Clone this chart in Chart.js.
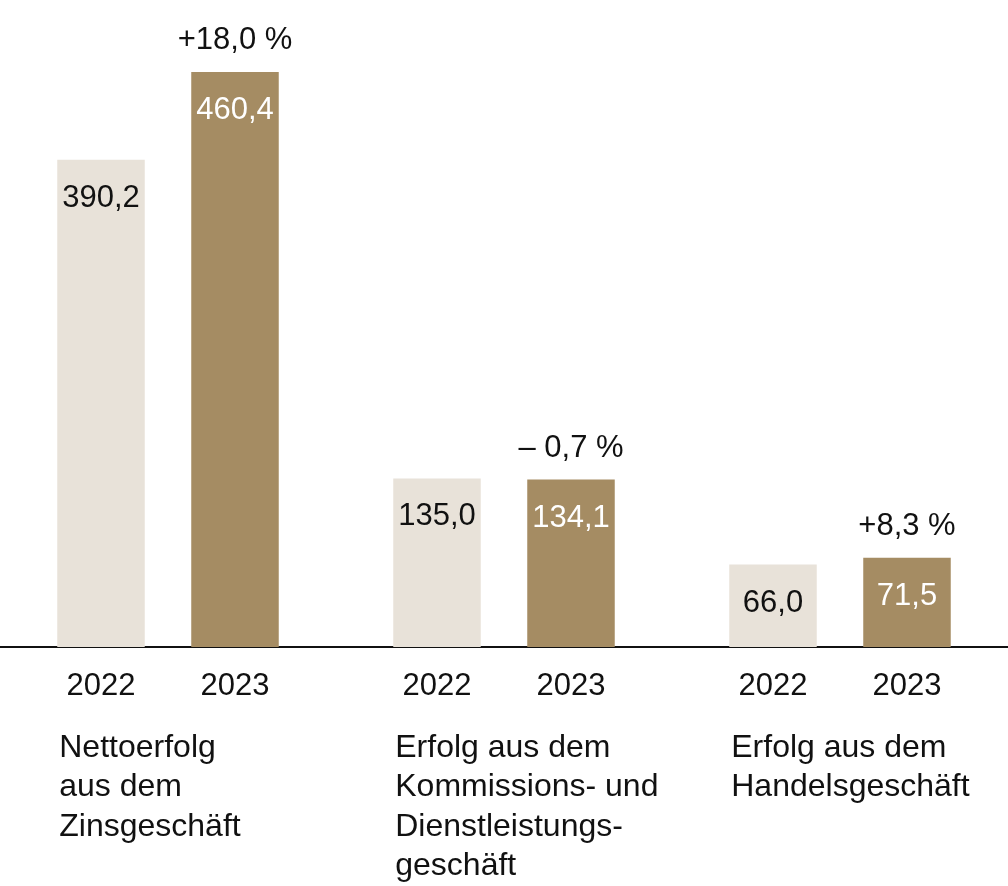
<!DOCTYPE html>
<html>
<head>
<meta charset="utf-8">
<script src="https://cdn.jsdelivr.net/npm/chart.js@4"></script>
<style>
  html, body { margin: 0; padding: 0; background: #fff; }
  #wrap { width: 1008px; height: 886px; }
</style>
</head>
<body>
<div id="wrap"><canvas id="myChart" width="1008" height="886"></canvas></div>
<script>
Chart.defaults.font.family = '"Liberation Sans", Arial, sans-serif';

const categories = [
  ['Nettoerfolg', 'aus dem', 'Zinsgeschäft'],
  ['Erfolg aus dem', 'Kommissions- und', 'Dienstleistungs-', 'geschäft'],
  ['Erfolg aus dem', 'Handelsgeschäft']
];
const years = ['2022', '2023'];
const values2022 = [390.2, 135.0, 66.0];
const values2023 = [460.4, 134.1, 71.5];
const changes = ['+18,0 %', '– 0,7 %', '+8,3 %'];

const lightColor = 'rgb(232,226,217)';
const darkColor = 'rgb(165,140,99)';
const textColor = '#111';

function fmt(v) {
  return v.toFixed(1).replace('.', ',');
}

// labels in/over the bars, years and group names under the axis
const labelPlugin = {
  id: 'labels',
  afterDraw(chart) {
    const ctx = chart.ctx;
    ctx.save();
    ctx.textBaseline = 'alphabetic';

    chart.data.datasets.forEach((ds, di) => {
      const meta = chart.getDatasetMeta(di);
      meta.data.forEach((bar, i) => {
        // value inside the bar
        ctx.font = '31px "Liberation Sans", Arial, sans-serif';
        ctx.textAlign = 'center';
        ctx.fillStyle = di === 1 ? '#fff' : textColor;
        ctx.fillText(fmt(ds.data[i]), bar.x, bar.y + 47);

        // change above the 2023 bar
        if (di === 1) {
          ctx.fillStyle = textColor;
          ctx.fillText(changes[i], bar.x, bar.y - 23);
        }

        // year below the axis
        ctx.fillStyle = textColor;
        ctx.fillText(years[di], bar.x, 695);

        // group name, left aligned at the 2022 bar
        if (di === 0) {
          ctx.font = '32px "Liberation Sans", Arial, sans-serif';
          ctx.textAlign = 'left';
          const left = bar.x - bar.width / 2 + 2;
          categories[i].forEach((line, li) => {
            ctx.fillText(line, left, 757 + li * 39.3);
          });
        }
      });
    });
    ctx.restore();
  }
};

const data = {
  labels: categories.map(c => c.join(' ')),
  datasets: [{
    label: years[0],
    data: values2022,
    backgroundColor: lightColor,
    borderWidth: 0
  }, {
    label: years[1],
    data: values2023,
    backgroundColor: darkColor,
    borderWidth: 0
  }]
};

const config = {
  type: 'bar',
  data: data,
  plugins: [labelPlugin],
  options: {
    responsive: false,
    animation: false,
    maintainAspectRatio: false,
    categoryPercentage: 0.7976,
    barPercentage: 0.653,
    layout: {
      padding: 0
    },
    plugins: {
      legend: { display: false },
      tooltip: { enabled: false }
    },
    scales: {
      x: {
        z: 1,
        grid: { display: false },
        border: { display: true, color: '#111', width: 2 },
        ticks: { display: false },
        afterFit(scale) { scale.height = 239; }
      },
      y: {
        display: false,
        min: 0,
        max: 518
      }
    }
  }
};

//Rendering
const myChart = new Chart(document.getElementById('myChart'), config);
</script>
</body>
</html>
